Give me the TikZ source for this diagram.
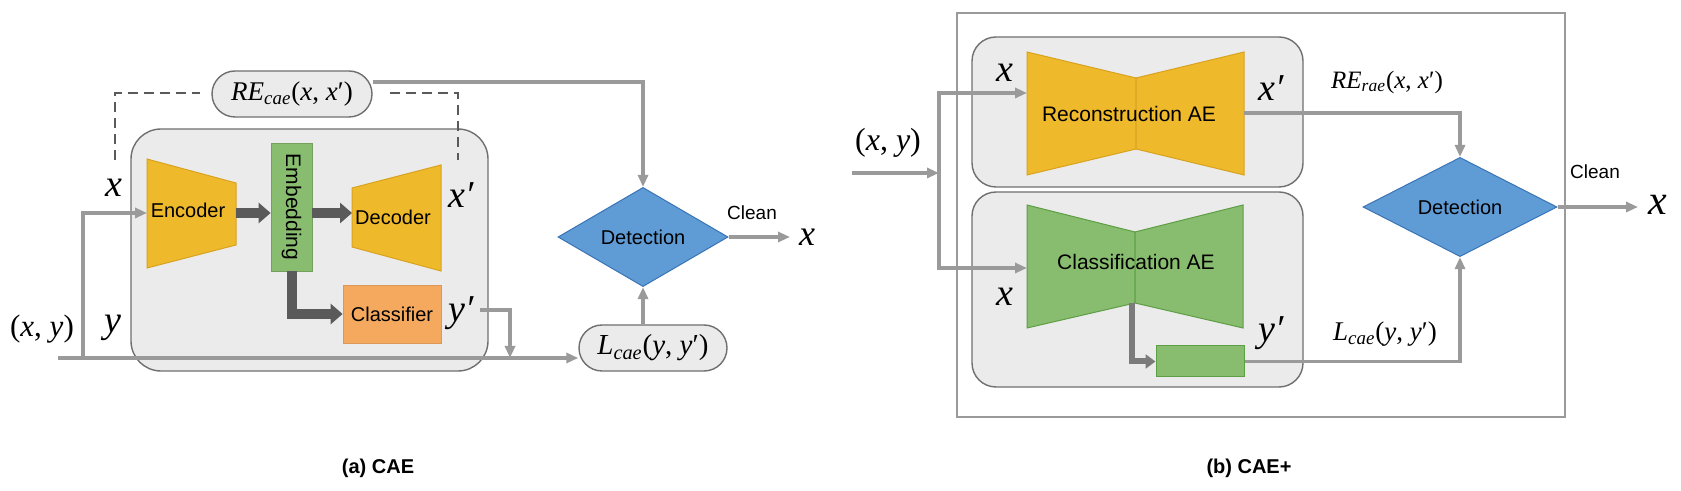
\documentclass[tikz,border=0pt]{standalone}
\usepackage{fontspec}
\setsansfont{Liberation Sans}
\newfontfamily\tms{Liberation Serif}
\newcommand\mi[1]{\textit{#1}}
\usetikzlibrary{shapes.geometric,arrows.meta,calc}
\definecolor{boxgray}{HTML}{EBEBEB}
\definecolor{boxline}{HTML}{6F6F6F}
\definecolor{yel}{HTML}{EFB92C}
\definecolor{yelline}{HTML}{D9A21E}
\definecolor{grn}{HTML}{88BC6F}
\definecolor{grnline}{HTML}{5E9E45}
\definecolor{org}{HTML}{F4A95F}
\definecolor{blu}{HTML}{5F9CD6}
\definecolor{bluline}{HTML}{3A73B5}
\definecolor{conn}{HTML}{9A9A9A}
\definecolor{thick}{HTML}{5A5A5A}
\tikzset{
  sf/.style={font=\fontsize{10}{12}\selectfont\sffamily},
  graybox/.style={draw=boxline, fill=boxgray, line width=0.7pt},
  pill/.style={draw=boxline, fill=boxgray, line width=0.7pt, rounded corners=11.5pt, minimum height=23pt, inner sep=2pt},
  yelshape/.style={fill=yel, draw=yelline, line width=0.5pt},
  grnshape/.style={fill=grn, draw=grnline, line width=0.5pt},
  det/.style={diamond, draw=bluline, fill=blu, line width=0.5pt, inner sep=0pt, sf},
  cn/.style={draw=conn, line width=1.6pt},
  cna/.style={cn, -{Triangle[length=6pt,width=5pt]}},
  thk/.style={draw=thick, line width=5pt, -{Triangle[length=6pt,width=10pt]}},
  mthk/.style={draw=thick!80, line width=3pt, -{Triangle[length=5pt,width=7pt]}},
  lbl/.style={font=\fontsize{19}{22}\selectfont\tms\itshape, inner sep=0pt},
  lblm/.style={font=\fontsize{15.5}{18}\selectfont\tms, inner sep=0pt},
  mtxt/.style={font=\fontsize{13.5}{16}\selectfont\tms},
  captxt/.style={font=\fontsize{10}{12}\selectfont\sffamily\bfseries}
}
\begin{document}
\begin{tikzpicture}[x=0.5pt,y=-0.5pt]
\useasboundingbox (0,0) rectangle (1681,491);
\fill[white] (0,0) rectangle (1681,491);

% ================= Panel (a) =================
\draw[graybox, rounded corners=15pt] (131,129) rectangle (488,371);
% dashed link
\draw[draw=thick, line width=0.9pt, dash pattern=on 5pt off 3pt] (115,160) -- (115,93) -- (200,93);
\draw[draw=thick, line width=0.9pt, dash pattern=on 5pt off 3pt] (390,93) -- (458,93) -- (458,160);
\node[pill, minimum width=80pt, mtxt] (re) at (292,94) {\mi{RE}\textsubscript{\mi{cae}}(\mi{x}, \mi{x}′)};

% encoder
\draw[yelshape] (147,159) -- (236,183) -- (236,245) -- (147,268) -- cycle;
\node[sf] (enc) at (188,210) {Encoder};
\coordinate (encin) at (147,213);
\coordinate (encout) at (236,213);
% embedding
\node[fill=grn, draw=grn!85!black, line width=0.4pt, minimum width=20.5pt, minimum height=64pt, inner sep=0pt] (emb) at (291.5,207) {};
\node[sf, font=\fontsize{10.5}{12}\selectfont\sffamily, rotate=-90] (embt) at (emb.center) {Embedding};
% decoder
\draw[yelshape] (352,188) -- (441,165) -- (441,271) -- (352,247) -- cycle;
\node[sf] (dec) at (393,217) {Decoder};
\coordinate (decin) at (352,213);
% classifier
\node[fill=org, draw=org!90!black, line width=0.4pt, minimum width=49pt, minimum height=29pt, inner sep=0pt, sf] (cls) at (392,314) {Classifier};

\draw[thk] (encout) -- (emb.west |- encout);
\draw[thk] (emb.east |- decin) -- (decin);
\draw[thk] (emb.south) |- (cls.west);

% labels
\node[lbl] (lx) at (114,188) {x};
\node[lbl] (lxp) at (461,195) {x′};
\node[lbl] (ly) at (113,328) {y};
\node[lbl] (lyp) at (461,313) {y′};
\node[lblm] (lxy) at (42,329) {(\mi{x}, \mi{y})};

% detection
\node[det, minimum width=85pt, minimum height=40pt] (deta) at (643,237) {Detection};
\node[pill, minimum width=74pt, mtxt, font=\fontsize{14.5}{16}\selectfont\tms] (lcae) at (653,348) {\mi{L}\textsubscript{\mi{cae}}(\mi{y}, \mi{y}′)};

% connectors
\coordinate (ina) at (58,358);
\coordinate (bra) at (83,358);
\draw[cna] (ina) -- (ina -| lcae.west);
\draw[cna] (bra) |- (encin);
\coordinate (ypo) at (480,310);
\draw[cna] (ypo) -| (510,358);
\draw[cna] ($(re.east)+(0,-12)$) -| (deta.north);
\draw[cna] (deta.south |- lcae.north) -- (deta.south);
\node[lbl, font=\fontsize{18}{20}\selectfont\tms\itshape] (outa) at (807,237) {x};
\draw[cna] (deta.east) -- (790,237);
\node[sf, font=\fontsize{9.5}{11}\selectfont\sffamily] (cleana) at (752,213) {Clean};

% ================= Panel (b) =================
\draw[draw=conn, line width=0.7pt] (957,13) rectangle (1565,417);
\draw[graybox, rounded corners=12pt] (972,37) rectangle (1303,187);
\draw[graybox, rounded corners=12pt] (972,192) rectangle (1303,387);

% reconstruction AE
\draw[yelshape] (1027,52) -- (1136,78) -- (1136,149) -- (1027,175) -- cycle;
\draw[yelshape] (1136,78) -- (1244,52) -- (1244,175) -- (1136,149) -- cycle;
\node[sf, font=\fontsize{10.5}{12}\selectfont\sffamily] (rae) at (1129,114) {Reconstruction AE};
% classification AE
\draw[grnshape] (1027,205) -- (1135,232) -- (1135,303) -- (1027,328) -- cycle;
\draw[grnshape] (1135,232) -- (1243,205) -- (1243,328) -- (1135,303) -- cycle;
\node[sf, font=\fontsize{10.5}{12}\selectfont\sffamily] (cae2) at (1136,262) {Classification AE};
\node[fill=grn, draw=grnline, line width=0.5pt, minimum width=44pt, minimum height=15.5pt, inner sep=0pt] (sr) at (1200,361.5) {};
\coordinate (caemid) at (1132,303);
\draw[mthk] (caemid) |- (sr.west);

% labels
\node[lbl] (bx1) at (1005,73) {x};
\node[lbl] (bx2) at (1005,297) {x};
\node[lbl] (bxp) at (1271,88) {x′};
\node[lbl] (byp) at (1271,333) {y′};
\node[lblm, font=\fontsize{16}{18}\selectfont\tms] (bxy) at (888,143) {(\mi{x}, \mi{y})};
\node[mtxt, font=\fontsize{12.5}{14}\selectfont\tms, inner sep=0pt] (brae) at (1387,82) {\mi{RE}\textsubscript{\mi{rae}}(\mi{x}, \mi{x}′)};
\node[mtxt, font=\fontsize{13.5}{15}\selectfont\tms, inner sep=0pt] (bcae) at (1385,334) {\mi{L}\textsubscript{\mi{cae}}(\mi{y}, \mi{y}′)};

% detection
\node[det, minimum width=97pt, minimum height=39.5pt] (detb) at (1460,207) {Detection};
\node[lbl, font=\fontsize{21}{22}\selectfont\tms\itshape] (outb) at (1658,205) {x};
\node[sf, font=\fontsize{9.5}{11}\selectfont\sffamily] (cleanb) at (1595,172) {Clean};

% connectors
\coordinate (inb) at (852,173);
\coordinate (brb) at (939,173);
\coordinate (recin) at (1027,93);
\coordinate (clsin) at (1027,268);
\coordinate (recout) at (1244,113);
\coordinate (outbend) at (1638,207);
\draw[cna] (inb) -- (brb);
\draw[cna] (brb) |- (recin);
\draw[cna] (brb) |- (clsin);
\draw[cna] (recout) -| (detb.north);
\draw[cna] (sr.east) -| (detb.south);
\draw[cna] (detb.east) -- (outbend);

% captions
\node[captxt] (capa) at (378,468) {(a) CAE};
\node[captxt] (capb) at (1249,468) {(b) CAE+};
\end{tikzpicture}
\end{document}
